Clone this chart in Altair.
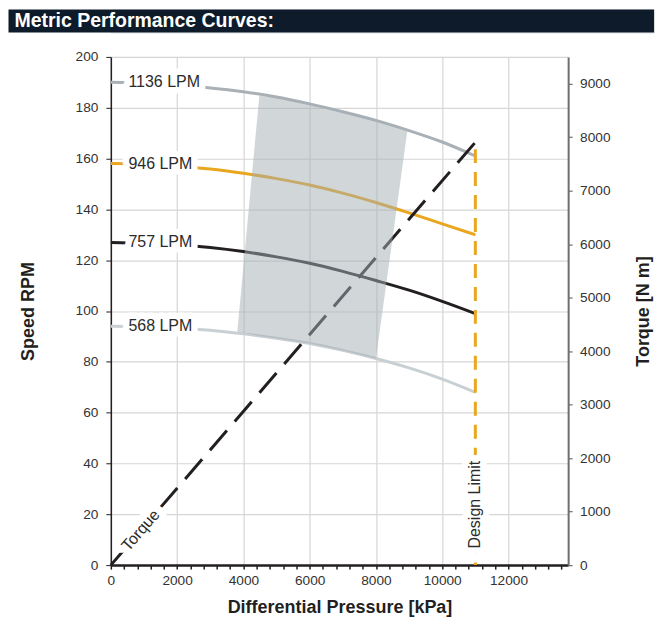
import altair as alt
import pandas as pd

FONT = "Liberation Sans"
TITLE = "Metric Performance Curves:"

# ---- data ----
KPA = [0, 1000, 2000, 3000, 4000, 5000, 6000, 7000, 8000, 9000, 10000, 11000]
SERIES = ["1136 LPM", "946 LPM", "757 LPM", "568 LPM"]
RPM_1136 = [190, 189.6, 188.8, 187.8, 186.3, 184.2, 181.5, 178.4, 175.0, 171.0, 166.5, 161.0]
RPM_946 = [158, 157.8, 157.0, 155.9, 154.2, 152.1, 149.6, 146.4, 142.7, 138.6, 134.3, 130.0]
RPM_757 = [127, 126.7, 126.1, 125.0, 123.4, 121.3, 118.8, 115.6, 112.0, 108.2, 103.8, 99.0]
RPM_568 = [94, 93.8, 93.3, 92.4, 91.0, 89.3, 87.2, 84.5, 81.3, 77.6, 73.2, 68.0]
SERIES_COLORS = ["#a9b1b6", "#e9a720", "#231f20", "#c9d0d4"]

LABEL_KPA = [530, 530, 530, 530]
LABEL_RPM = [190, 158, 127, 94]

# shaded operating region (lower / upper edge)
REGION_KPA = [3816, 4480, 5000, 6000, 7000, 8000, 8500, 8945]
REGION_LO = [91.8, 90.2, 89.3, 87.2, 84.5, 81.3, 128.5, 170.6]
REGION_HI = [91.8, 184.6, 184.2, 181.5, 178.4, 175.0, 173.1, 170.6]

TORQUE_KPA = [0, 11050]
TORQUE_NM = [0, 7940]

DESIGN_LIMIT_KPA = [11000]
DESIGN_LIMIT_TOP = [163.7]
DESIGN_LIMIT_BOTTOM = [0]

TORQUE_TEXT = ["Torque"]
TORQUE_TEXT_KPA = [900]
TORQUE_TEXT_NM = [650]

DESIGN_TEXT = ["Design Limit"]
DESIGN_TEXT_KPA = [11000]
DESIGN_TEXT_RPM = [23.8]

X_MAX = 13800
RPM_MAX = 200
NM_MAX = 9500
X_TICKS = list(range(0, 13700, 400))
RPM_TICKS = list(range(0, 201, 20))
NM_TICKS = list(range(0, 9001, 1000))

# ---- tables ----
rows = []
for name, vals in zip(SERIES, [RPM_1136, RPM_946, RPM_757, RPM_568]):
    for k, v in zip(KPA, vals):
        rows.append({"kpa": k, "rpm": v, "flow": name})
curves_df = pd.DataFrame(rows)
labels_df = pd.DataFrame({"kpa": LABEL_KPA, "rpm": LABEL_RPM, "flow": SERIES})
region_df = pd.DataFrame({"kpa": REGION_KPA, "lo": REGION_LO, "hi": REGION_HI})
torque_df = pd.DataFrame({"kpa": TORQUE_KPA, "nm": TORQUE_NM})
limit_df = pd.DataFrame({"kpa": DESIGN_LIMIT_KPA, "top": DESIGN_LIMIT_TOP, "bottom": DESIGN_LIMIT_BOTTOM})
ttext_df = pd.DataFrame({"t": TORQUE_TEXT, "kpa": TORQUE_TEXT_KPA, "nm": TORQUE_TEXT_NM})
dtext_df = pd.DataFrame({"t": DESIGN_TEXT, "kpa": DESIGN_TEXT_KPA, "rpm": DESIGN_TEXT_RPM})
title_df = pd.DataFrame({"t": [TITLE]})

LABEL_SIZE = 13.7
TEXT_SIZE = 16
TITLE_SIZE = 18

# ---- axes / scales ----
x_axis = alt.Axis(
    values=X_TICKS,
    labelExpr="datum.value % 2000 === 0 ? format(datum.value, 'd') : ''",
    labelOverlap=False, labelFlush=False, labelFontSize=LABEL_SIZE, labelColor="#333333",
    labelPadding=4.5, tickSize=4, tickColor="#231f20", tickWidth=1.5,
    domainColor="#231f20", domainWidth=2.5,
    grid=True, gridColor="#d6d6d6", gridWidth=1.2,
    gridOpacity={"condition": {"test": "datum.value % 2000 === 0", "value": 1}, "value": 0},
    title="Differential Pressure [kPa]", titleFontSize=TITLE_SIZE, titleFontWeight="bold",
    titleColor="#231f20", titlePadding=11,
)
x_scale = alt.Scale(domain=[0, X_MAX], nice=False)

rpm_axis = alt.Axis(
    orient="left", values=RPM_TICKS, format="d", labelFontSize=LABEL_SIZE, labelColor="#333333",
    labelPadding=8, labelFlush=False, labelOverlap=False, tickSize=5, tickColor="#231f20",
    domainColor="#231f20", domainWidth=1.5, grid=True, gridColor="#d6d6d6", gridWidth=1.2,
    title="Speed RPM", titleFontSize=TITLE_SIZE, titleFontWeight="bold", titleColor="#231f20",
    titlePadding=38,
)
rpm_scale = alt.Scale(domain=[0, RPM_MAX], nice=False)

nm_axis = alt.Axis(
    orient="right", values=NM_TICKS, format="d", labelFontSize=LABEL_SIZE, labelColor="#333333",
    labelPadding=7.5, labelFlush=False, labelOverlap=False, tickSize=4, tickColor="#6f6f6f",
    tickWidth=1.2, domainColor="#6f6f6f", domainWidth=2, grid=False,
    title="Torque [N m]", titleAngle=270, titleBaseline="top", titleFontSize=TITLE_SIZE,
    titleFontWeight="bold", titleColor="#231f20", titlePadding=25,
)
nm_scale = alt.Scale(domain=[0, NM_MAX], nice=False)


def X(field="kpa"):
    return alt.X(f"{field}:Q", scale=x_scale, axis=x_axis)


def Yr(field, axis=True):
    if axis:
        return alt.Y(f"{field}:Q", scale=rpm_scale, axis=rpm_axis)
    return alt.Y(f"{field}:Q", scale=rpm_scale, axis=None)


def Yt(field):
    return alt.Y(f"{field}:Q", scale=nm_scale, axis=nm_axis)


# ---- speed curves (bottom layer) ----
curves = alt.Chart(curves_df).mark_line(strokeWidth=3, interpolate="monotone").encode(
    x=X(), y=Yr("rpm"),
    color=alt.Color("flow:N", scale=alt.Scale(domain=SERIES, range=SERIES_COLORS), legend=None),
)
speed_base = alt.layer(curves)

# ---- torque line ----
torque_line = alt.Chart(torque_df).mark_line(
    strokeWidth=3, color="#231f20", strokeDash=[26, 12]
).encode(x=X(), y=Yt("nm"))
torque_halo = alt.Chart(ttext_df).mark_text(
    angle=311, align="center", baseline="middle", font=FONT, fontSize=TEXT_SIZE,
    fill="white", stroke="white", strokeWidth=15, strokeJoin="round",
).encode(x=X(), y=Yt("nm"), text="t:N")
torque_text = alt.Chart(ttext_df).mark_text(
    angle=311, align="center", baseline="middle", font=FONT, fontSize=TEXT_SIZE, color="#2b2b2b",
).encode(x=X(), y=Yt("nm"), text="t:N")
torque_grp = alt.layer(torque_line, torque_halo, torque_text)

# ---- top speed layers ----
region = alt.Chart(region_df).mark_area(color="#a3adb3", opacity=0.5).encode(
    x=X(), y=Yr("lo", False), y2="hi:Q"
)
limit = alt.Chart(limit_df).mark_rule(
    color="#e9a720", strokeWidth=3, strokeDash=[14, 9]
).encode(x=X(), y=Yr("top", False), y2="bottom:Q")
lpm_halo = alt.Chart(labels_df).mark_text(
    align="left", baseline="middle", font=FONT, fontSize=TEXT_SIZE,
    fill="white", stroke="white", strokeWidth=13, strokeJoin="round",
).encode(x=X(), y=Yr("rpm", False), text="flow:N")
lpm_text = alt.Chart(labels_df).mark_text(
    align="left", baseline="middle", font=FONT, fontSize=TEXT_SIZE, color="#2b2b2b",
).encode(x=X(), y=Yr("rpm", False), text="flow:N")
d_halo = alt.Chart(dtext_df).mark_text(
    angle=270, align="center", baseline="middle", font=FONT, fontSize=TEXT_SIZE,
    fill="white", stroke="white", strokeWidth=13, strokeJoin="round",
).encode(x=X(), y=Yr("rpm", False), text="t:N")
d_text = alt.Chart(dtext_df).mark_text(
    angle=270, align="center", baseline="middle", font=FONT, fontSize=TEXT_SIZE, color="#2b2b2b",
).encode(x=X(), y=Yr("rpm", False), text="t:N")
speed_top = alt.layer(region, limit, lpm_halo, lpm_text, d_halo, d_text)

main = alt.layer(speed_base, torque_grp, speed_top).resolve_scale(y="independent").properties(
    width=458, height=509
)

# ---- title bar (spans the full chart width, left of the plot origin too) ----
bar_bg = alt.Chart(title_df).mark_rect(color="#0e1b2b").encode(
    x=alt.value(-102.5), x2=alt.value(544), y=alt.value(0), y2=alt.value(23)
)
bar_text = alt.Chart(title_df).mark_text(
    align="left", baseline="middle", font=FONT, fontSize=19.5, fontWeight="bold", color="white"
).encode(x=alt.value(-96.5), y=alt.value(12), text="t:N")
bar = alt.layer(bar_bg, bar_text).properties(width=544, height=23)

chart = alt.vconcat(bar, main, spacing=15.5).properties(
    padding=0, background="white"
).configure_view(strokeWidth=0).configure(font=FONT)

chart.save("out.html", embed_options={"renderer": "svg", "actions": False})
